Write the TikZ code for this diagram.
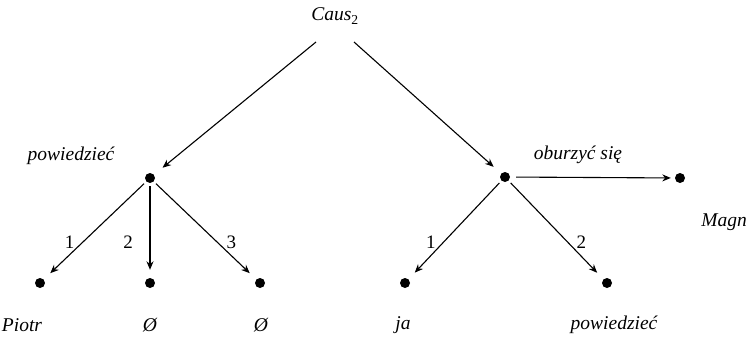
\documentclass[tikz,border=0pt]{standalone}
\usepackage{fontspec}
\setmainfont{Liberation Serif}
\usetikzlibrary{arrows.meta}
\begin{document}
\begin{tikzpicture}[x=1pt,y=-1pt,
  dot/.style={circle,fill=black,inner sep=0pt,minimum size=10pt},
  lab/.style={font=\fontsize{19.5}{22}\selectfont\itshape,inner sep=0pt},
  num/.style={font=\fontsize{19}{22}\selectfont,inner sep=0pt,pos=0.62},
  arr/.style={-{Stealth[length=8.5pt,width=7pt]},line width=1.1pt}]
\useasboundingbox (0,0) rectangle (748,362);
\node[lab] (caus) at (335,16) {Caus\textsubscript{\upshape 2}};
\node[dot] (L) at (150,178) {};
\node[dot] (R) at (505,177) {};
\node[dot] (M) at (680,178) {};
\node[lab] (Llab) at (71,156) {powiedzieć};
\node[lab] (Rlab) at (578,155) {oburzyć się};
\node[lab] (Mlab) at (724,222) {Magn};
\node[dot] (b1) at (40,283) {};
\node[dot] (b2) at (150,283) {};
\node[dot] (b3) at (260,283) {};
\node[dot] (b4) at (405,283) {};
\node[dot] (b5) at (607,283) {};
\node[lab] (t1) at (22,325) {Piotr};
\node[lab] (t2) at (150,325) {Ø};
\node[lab] (t3) at (261,325) {Ø};
\node[lab] (t4) at (403,325) {ja};
\node[lab] (t5) at (614,325) {powiedzieć};
\coordinate (cL) at (316,42);
\coordinate (cR) at (354,42);
\draw[arr,shorten >=11pt] (cL) -- (L);
\draw[arr,shorten >=10pt] (cR) -- (R);
\draw[arr,shorten <=6pt,shorten >=4pt] (R) -- (M);
\draw[arr,shorten <=3pt,shorten >=9pt] (L) -- node[num,xshift=-13pt]{1} (b1);
\draw[arr,shorten <=3pt,shorten >=8pt] (L) -- node[num,xshift=-22pt]{2} (b2);
\draw[arr,shorten <=3pt,shorten >=9pt] (L) -- node[num,xshift=14pt]{3} (b3);
\draw[arr,shorten <=3pt,shorten >=9pt] (R) -- node[num,xshift=-13pt]{1} (b4);
\draw[arr,shorten <=3pt,shorten >=9pt] (R) -- node[num,xshift=14pt]{2} (b5);
\end{tikzpicture}
\end{document}
